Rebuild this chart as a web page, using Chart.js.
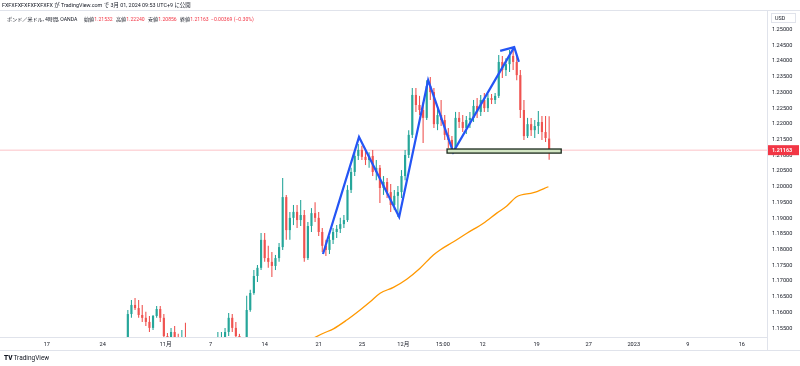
<!DOCTYPE html>
<html>
<head>
<meta charset="utf-8">
<script src="https://cdn.jsdelivr.net/npm/chart.js@4.4.0/dist/chart.umd.min.js"></script>
<style>
  html, body { margin: 0; padding: 0; background: #fff; }
  #wrap { position: relative; width: 800px; height: 366px; overflow: hidden;
          font-family: Roboto, "Noto Sans CJK JP", sans-serif; color: #131722; }
  #chart { position: absolute; left: 0; top: 0; }
  .t { position: absolute; font-size: 5.1px; line-height: 8px; white-space: nowrap; }
  .h { position: absolute; font-size: 5.4px; line-height: 8px; white-space: nowrap; }
  .r { color: #f23645; }
  .logo { position: absolute; left: 4px; top: 354px; font-size: 6.5px; line-height: 8px; white-space: nowrap; }
  .logo b { font-weight: 900; margin-right: 1px; }
</style>
</head>
<body>
<div id="wrap">
  <canvas id="chart" width="800" height="366"></canvas>
  <div class="h" style="left:2px;top:1px;">FXFXFXFXFXFXFXFX が TradingView.com で 3月 01, 2024 09:53 UTC+9 に公開</div>
  <div class="t" style="left:7px;top:15px;">ポンド／米ドル, 4時間, OANDA</div>
  <div class="t" style="left:84px;top:15px;">始値<span class="r">1.21532</span></div>
  <div class="t" style="left:116px;top:15px;">高値<span class="r">1.22240</span></div>
  <div class="t" style="left:148px;top:15px;">安値<span class="r">1.20856</span></div>
  <div class="t" style="left:180px;top:15px;">終値<span class="r">1.21163</span></div>
  <div class="t r" style="left:211px;top:15px;">−0.00369 (−0.30%)</div>
  <div class="logo"><b>TV</b>TradingView</div>
</div>
<script>
// ポンド／米ドル 4時間足 (表示は8時間ごとのローソク足)
const timeLabels = ['17', '24', '11月', '7', '14', '21', '25', '12月', '15:00', '12', '19', '27', '2023', '9', '16'];
const timeLabelBars = [26, 57, 92, 117, 147, 177, 201, 224, 246, 268, 298, 327, 352, 382, 412];
const priceTicks = [1.155, 1.16, 1.165, 1.17, 1.175, 1.18, 1.185, 1.19, 1.195, 1.2,
                    1.205, 1.21, 1.215, 1.22, 1.225, 1.23, 1.235, 1.24, 1.245, 1.25];

const opens = [
  1.1497, 1.1595, 1.1624, 1.1614, 1.1592, 1.1583, 1.1570, 1.1551, 1.1589, 1.1611,
  1.1583, 1.1525, 1.1497, 1.1538, 1.1519, 1.1494, 1.1500, null, null, null,
  null, null, null, null, null, 1.1497, 1.1513, 1.1513, 1.1538, 1.1583,
  1.1551, 1.1525, null, 1.1481, 1.1608, 1.1662, 1.1716, 1.1742, 1.1831, 1.1773,
  1.1761, 1.1748, 1.1773, 1.1808, 1.1967, 1.1862, 1.1901, 1.1920, 1.1894, 1.1910,
  1.1773, 1.1875, 1.1916, 1.1901, 1.1856, 1.1812, 1.1799, 1.1831, 1.1856, 1.1866,
  1.1881, 1.1894, 1.1990, 1.2047, 1.2098, 1.2117, 1.2095, 1.2085, 1.2098, 1.2047,
  1.2060, 1.1996, 1.2015, 1.1983, 1.1942, 1.1971, 1.1983, 1.2034, 1.2101, 1.2165,
  1.2292, 1.2260, 1.2244, 1.2219, 1.2320, 1.2301, 1.2199, 1.2228, 1.2212, 1.2165,
  1.2149, 1.2123, 1.2219, 1.2206, 1.2187, 1.2212, 1.2219, 1.2257, 1.2238, 1.2276,
  1.2250, 1.2282, 1.2276, 1.2289, 1.2397, 1.2371, 1.2390, 1.2416, 1.2397, 1.2355,
  1.2244, 1.2161, 1.2199, 1.2180, 1.2193, 1.2206, 1.2174, 1.21532
];
const highs = [
  1.1608, 1.1640, 1.1646, 1.1640, 1.1624, 1.1602, 1.1589, 1.1592, 1.1621, 1.1621,
  1.1595, 1.1535, 1.1551, 1.1557, 1.1532, 1.1544, 1.1567, null, null, null,
  null, null, null, null, null, 1.1538, 1.1538, 1.1551, 1.1598, 1.1595,
  1.1570, 1.1532, null, 1.1653, 1.1672, 1.1735, 1.1751, 1.1853, 1.1853, 1.1812,
  1.1792, 1.1783, 1.1821, 1.2028, 1.1974, 1.1920, 1.1942, 1.1942, 1.1958, 1.1926,
  1.1888, 1.1932, 1.1951, 1.1920, 1.1869, 1.1831, 1.1843, 1.1869, 1.1878, 1.1901,
  1.1910, 1.2005, 1.2060, 1.2110, 1.2136, 1.2130, 1.2117, 1.2110, 1.2117, 1.2085,
  1.2069, 1.2034, 1.2028, 1.2009, 1.1990, 1.2002, 1.2053, 1.2117, 1.2180, 1.2314,
  1.2314, 1.2289, 1.2269, 1.2339, 1.2349, 1.2314, 1.2250, 1.2276, 1.2228, 1.2187,
  1.2161, 1.2238, 1.2238, 1.2228, 1.2225, 1.2238, 1.2276, 1.2282, 1.2292, 1.2298,
  1.2295, 1.2295, 1.2298, 1.2419, 1.2416, 1.2409, 1.2435, 1.2444, 1.2419, 1.2371,
  1.2276, 1.2219, 1.2219, 1.2212, 1.2241, 1.2225, 1.2225, 1.22240
];
const lows = [
  1.1487, 1.1583, 1.1608, 1.1583, 1.1570, 1.1557, 1.1538, 1.1544, 1.1583, 1.1570,
  1.1513, 1.1481, 1.1481, 1.1506, 1.1481, 1.1474, 1.1481, null, null, null,
  null, null, null, null, null, 1.1481, 1.1487, 1.1497, 1.1525, 1.1538,
  1.1513, 1.1474, null, 1.1474, 1.1602, 1.1656, 1.1697, 1.1735, 1.1761, 1.1742,
  1.1713, 1.1735, 1.1761, 1.1799, 1.1831, 1.1831, 1.1878, 1.1869, 1.1875, 1.1761,
  1.1767, 1.1856, 1.1888, 1.1843, 1.1792, 1.1780, 1.1786, 1.1818, 1.1837, 1.1853,
  1.1869, 1.1888, 1.1980, 1.2034, 1.2085, 1.2085, 1.2069, 1.2060, 1.2034, 1.2021,
  1.1948, 1.1974, 1.1964, 1.1920, 1.1926, 1.1904, 1.1964, 1.2021, 1.2091, 1.2155,
  1.2238, 1.2228, 1.2139, 1.2212, 1.2276, 1.2187, 1.2180, 1.2193, 1.2149, 1.2123,
  1.2110, 1.2110, 1.2187, 1.2174, 1.2168, 1.2187, 1.2206, 1.2219, 1.2225, 1.2238,
  1.2238, 1.2263, 1.2263, 1.2282, 1.2346, 1.2352, 1.2365, 1.2371, 1.2339, 1.2219,
  1.2149, 1.2155, 1.2161, 1.2155, 1.2168, 1.2149, 1.2142, 1.20856
];
const closes = [
  1.1595, 1.1624, 1.1614, 1.1592, 1.1583, 1.1570, 1.1551, 1.1589, 1.1611, 1.1583,
  1.1525, 1.1497, 1.1538, 1.1519, 1.1497, 1.1500, 1.1494, null, null, null,
  null, null, null, null, null, 1.1513, 1.1519, 1.1538, 1.1583, 1.1551,
  1.1525, 1.1487, null, 1.1608, 1.1662, 1.1716, 1.1742, 1.1831, 1.1773, 1.1761,
  1.1748, 1.1773, 1.1808, 1.1967, 1.1862, 1.1901, 1.1920, 1.1894, 1.1910, 1.1773,
  1.1875, 1.1916, 1.1901, 1.1856, 1.1812, 1.1799, 1.1831, 1.1856, 1.1866, 1.1881,
  1.1894, 1.1990, 1.2047, 1.2098, 1.2117, 1.2095, 1.2085, 1.2098, 1.2047, 1.2060,
  1.1996, 1.2015, 1.1983, 1.1942, 1.1971, 1.1983, 1.2034, 1.2101, 1.2165, 1.2292,
  1.2260, 1.2244, 1.2219, 1.2320, 1.2301, 1.2199, 1.2228, 1.2212, 1.2165, 1.2149,
  1.2123, 1.2219, 1.2206, 1.2187, 1.2212, 1.2219, 1.2257, 1.2238, 1.2276, 1.2250,
  1.2282, 1.2276, 1.2289, 1.2397, 1.2371, 1.2390, 1.2416, 1.2397, 1.2355, 1.2244,
  1.2161, 1.2199, 1.2180, 1.2193, 1.2206, 1.2174, 1.2155, 1.21163
];
const lastPrice = 1.21163;

// 移動平均線 (オレンジ)
const maBars = [174, 179.6, 185.2, 192.6, 200, 205.6, 211.1, 218.5, 225.9, 233.3,
                240.7, 244.4, 251.9, 259.3, 268.5, 275.9, 281.5, 287, 296.3, 304.6];
const maValues = [1.1518, 1.1534, 1.1548, 1.1576, 1.1608, 1.1634, 1.1661, 1.1680, 1.1706, 1.1741,
                  1.1783, 1.1799, 1.1825, 1.1852, 1.1884, 1.1916, 1.1939, 1.1968, 1.1981, 1.2000];

// 描画ツール: ジグザグ線、矢印、サポートゾーン
const zigzagBars = [179.4, 199.4, 221.7, 237.8, 251.7, 285.6];
const zigzagPrices = [1.1786, 1.2158, 1.1904, 1.2339, 1.2110, 1.2444];
const arrowBars = [277.8, 285.6, 288.2];
const arrowPrices = [1.2432, 1.2444, 1.2397];
const zoneBars = [248.3, 311.7];
const zonePrices = [1.2107, 1.2120];

const firstBar = 71;
const barStep = 2;
const upColor = '#26a69a';
const downColor = '#ef5350';
const fontFamily = 'Roboto, "Noto Sans CJK JP", sans-serif';

const wicks = [], bodies = [], candleColors = [];
opens.forEach((o, i) => {
  if (o === null) return;
  const x = firstBar + barStep * i;
  wicks.push({ x: x, y: [lows[i], highs[i]] });
  bodies.push({ x: x, y: [o, closes[i]] });
  candleColors.push(closes[i] >= o ? upColor : downColor);
});

const toPoints = (xs, ys) => xs.map((x, i) => ({ x: x, y: ys[i] }));

const overlay = {
  id: 'overlay',
  afterDatasetsDraw(chart) {
    const { ctx, scales: { x, y } } = chart;
    const x0 = x.getPixelForValue(zoneBars[0]);
    const x1 = x.getPixelForValue(zoneBars[1]);
    const y0 = y.getPixelForValue(zonePrices[1]);
    const y1 = y.getPixelForValue(zonePrices[0]);
    ctx.save();
    ctx.fillStyle = '#d3e6c4';
    ctx.fillRect(x0, y0, x1 - x0, y1 - y0);
    ctx.strokeStyle = '#1b2a1d';
    ctx.lineWidth = 1.3;
    ctx.strokeRect(x0, y0, x1 - x0, y1 - y0);
    ctx.restore();
  },
  afterDraw(chart) {
    const { ctx, chartArea, scales: { y } } = chart;
    ctx.save();
    ctx.strokeStyle = '#e0e3eb';
    ctx.lineWidth = 1;
    ctx.beginPath();
    ctx.moveTo(0, 10.5); ctx.lineTo(800, 10.5);
    ctx.moveTo(0, 350.5); ctx.lineTo(800, 350.5);
    ctx.moveTo(chartArea.right + 0.5, 10.5); ctx.lineTo(chartArea.right + 0.5, 350.5);
    ctx.stroke();
    // USD
    ctx.strokeRect(771.5, 13.5, 24, 9);
    ctx.fillStyle = '#131722';
    ctx.font = '5.4px ' + fontFamily;
    ctx.textBaseline = 'middle';
    ctx.fillText('USD', 775, 18.5);
    // 現在値ラベル
    const py = y.getPixelForValue(lastPrice);
    ctx.fillStyle = '#f23645';
    ctx.fillRect(768, py - 5, 31, 10);
    ctx.fillStyle = '#ffffff';
    ctx.font = 'bold 5.4px ' + fontFamily;
    ctx.fillText(lastPrice.toFixed(5), 772, py + 0.5);
    ctx.restore();
  }
};

new Chart(document.getElementById('chart'), {
  type: 'bar',
  data: {
    datasets: [
      {
        type: 'line', data: [{ x: 0, y: lastPrice }, { x: 426, y: lastPrice }],
        borderColor: 'rgba(242,54,69,0.3)', borderWidth: 1, pointRadius: 0, order: 10, clip: 0
      },
      {
        data: wicks, backgroundColor: candleColors, grouped: false,
        categoryPercentage: 1, barPercentage: 0.3, order: 6
      },
      {
        data: bodies, backgroundColor: candleColors, grouped: false,
        categoryPercentage: 1, barPercentage: 0.6, minBarLength: 1, order: 5
      },
      {
        type: 'line', data: toPoints(maBars, maValues), borderColor: '#ff9800',
        borderWidth: 1.3, pointRadius: 0, cubicInterpolationMode: 'monotone', order: 3, clip: 0
      },
      {
        type: 'line', data: toPoints(zigzagBars, zigzagPrices), borderColor: '#2455f5',
        borderWidth: 2.2, pointRadius: 0, order: 2, clip: 0
      },
      {
        type: 'line', data: toPoints(arrowBars, arrowPrices), borderColor: '#2455f5',
        borderWidth: 2.2, pointRadius: 0, order: 1, clip: 0
      }
    ]
  },
  options: {
    responsive: false,
    animation: false,
    devicePixelRatio: 1,
    layout: { padding: { top: 11, bottom: 16, left: 0, right: 0 } },
    plugins: { legend: { display: false }, tooltip: { enabled: false } },
    scales: {
      x: {
        type: 'linear', min: 0, max: 426, offset: false,
        grid: { display: false, drawTicks: false },
        border: { display: true, color: '#e0e3eb' },
        ticks: {
          autoSkip: false, maxRotation: 0, padding: 4, color: '#131722',
          font: { size: 5.6, family: fontFamily },
          callback: (v) => {
            const i = timeLabelBars.indexOf(v);
            return i < 0 ? '' : timeLabels[i];
          }
        },
        afterBuildTicks: (s) => { s.ticks = timeLabelBars.map(v => ({ value: v })); },
        afterFit: (s) => { s.height = 13; }
      },
      y: {
        type: 'linear', position: 'right', min: 1.1522, max: 1.2559,
        grid: { display: false, drawTicks: false },
        border: { display: false },
        ticks: {
          padding: 5, color: '#131722',
          font: { size: 5.6, family: fontFamily },
          callback: (v) => v.toFixed(5)
        },
        afterBuildTicks: (s) => { s.ticks = priceTicks.map(v => ({ value: v })); },
        afterFit: (s) => { s.width = 33; }
      }
    }
  },
  plugins: [overlay]
});
</script>
</body>
</html>
